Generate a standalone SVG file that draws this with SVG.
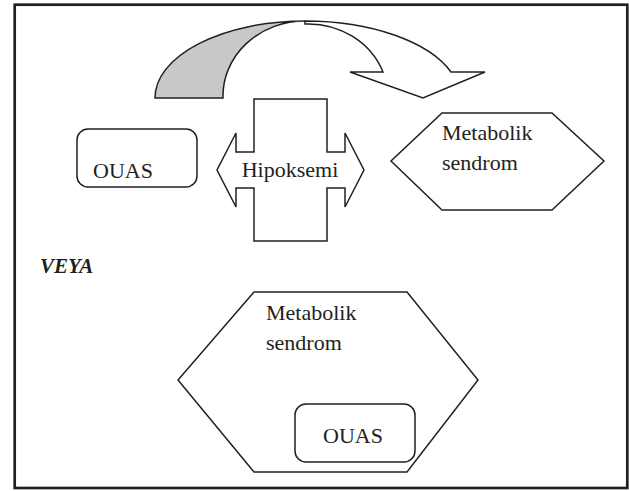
<svg xmlns="http://www.w3.org/2000/svg" width="629" height="491" viewBox="0 0 629 491">
<style>
.sh{fill:#fff;stroke:#231f20;stroke-width:1.5;stroke-linejoin:miter}
.t{font-family:'Liberation Serif','Times New Roman',serif;font-size:22px;fill:#231f20}
.v{font-family:'Liberation Serif','Times New Roman',serif;font-size:21px;font-weight:bold;font-style:italic;fill:#231f20}
</style>
<rect x="0" y="0" width="629" height="491" fill="#fff"/>
<rect id="frame" x="14.7" y="4.7" width="612.6" height="483.3" fill="none" stroke="#231f20" stroke-width="2.7"/>
<g id="connectors">
<path class="sh" d="M155,98 A150,77 0 0 1 305,21 A82,75 0 0 0 223,98 Z" style="fill:#c8c8ca"/>
<path class="sh" d="M305,21 A155,77 0 0 1 451,72 L485,72 L423,98 L350,72 L383,72 A80,75 0 0 0 305,24 Z"/>
</g>
<g id="ouas1">
<rect class="sh" x="77" y="129" width="120" height="58" rx="11"/>
<text class="t" x="93" y="178">OUAS</text>
</g>
<g id="hipoksemi">
<path class="sh" d="M254,99 L327,99 L327,152 L345,152 L345,133 L364,170 L345,207 L345,188 L327,188 L327,241 L254,241 L254,188 L236,188 L236,207 L217,170 L236,133 L236,152 L254,152 Z"/>
<text class="t" x="290" y="177" text-anchor="middle">Hipoksemi</text>
</g>
<g id="metabolik1">
<path class="sh" d="M442,113 L552,113 L604,161 L552,210 L442,210 L391,161 Z"/>
<text class="t" x="442" y="140">Metabolik</text>
<text class="t" x="442" y="170">sendrom</text>
</g>
<text id="veya" class="v" x="40" y="273">VEYA</text>
<g id="metabolik2">
<path class="sh" d="M254,292 L407,292 L478,380 L407,472 L254,472 L178,380 Z"/>
<text class="t" x="266" y="320">Metabolik</text>
<text class="t" x="266" y="350">sendrom</text>
</g>
<g id="ouas2">
<rect class="sh" x="295" y="404" width="120" height="58" rx="11"/>
<text class="t" x="323" y="443">OUAS</text>
</g>
</svg>
